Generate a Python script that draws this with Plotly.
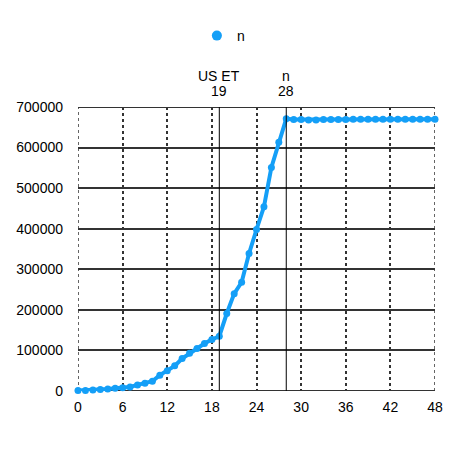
import plotly.graph_objects as go

x_vals = list(range(0, 49))
n_vals = [1000, 1500, 2500, 3500, 5000, 6500, 8000, 10000, 15000, 19000,
          24000, 39000, 50000, 62000, 80000, 93000, 105000, 117000, 127000, 135000,
          191000, 240000, 268000, 339000, 398000, 454000, 551000, 613000, 671000,
          669000, 669000, 668000, 668000, 669000, 669000, 669000, 669000, 670000, 670000,
          670000, 670000, 670000, 670000, 670000, 670000, 670000, 670000, 670000, 670000]
x_ticks = [0, 6, 12, 18, 24, 30, 36, 42, 48]
markers_x = [19, 28]
markers_label = ["US ET", "n"]
x_range = [0, 48]
y_range = [0, 700000]

FONT = "Liberation Sans, Arial, Helvetica, sans-serif"
BLUE = "#149ff7"
GRID = "#333333"

fig = go.Figure()

# edge gridlines (plotly omits grid lines on the range boundary)
for xv in x_range:
    fig.add_shape(type="line", xref="x", yref="paper", x0=xv, x1=xv, y0=0, y1=1,
                  line=dict(color=GRID, width=1.5, dash="dot"), layer="below")
for yv in y_range:
    fig.add_shape(type="line", xref="paper", yref="y", x0=0, x1=1, y0=yv, y1=yv,
                  line=dict(color=GRID, width=2), layer="below")

fig.add_trace(go.Scatter(
    x=x_vals, y=n_vals, mode="lines+markers", name="n", showlegend=False,
    line=dict(color=BLUE, width=4),
    marker=dict(color=BLUE, size=7),
    cliponaxis=False,
))
fig.add_trace(go.Scatter(
    x=[None], y=[None], mode="markers", name="n", showlegend=True,
    marker=dict(color=BLUE, size=10),
))

for xv, lab in zip(markers_x, markers_label):
    fig.add_shape(type="line", xref="x", yref="paper", x0=xv, x1=xv, y0=0, y1=1,
                  line=dict(color="black", width=1), layer="above")
    fig.add_annotation(x=xv, xref="x", y=1, yref="paper", yanchor="bottom",
                       text=str(xv), showarrow=False, yshift=6,
                       font=dict(family=FONT, size=14, color="black"))
    fig.add_annotation(x=xv, xref="x", y=1, yref="paper", yanchor="bottom",
                       text=lab, showarrow=False, yshift=21,
                       font=dict(family=FONT, size=14, color="black"))

fig.update_layout(
    width=464, height=450,
    margin=dict(l=70, r=37, t=99, b=67, autoexpand=False),
    paper_bgcolor="white", plot_bgcolor="white",
    font=dict(family=FONT, size=14, color="black"),
    showlegend=True,
    legend=dict(orientation="h", x=0.333, xanchor="left", y=1.25, yanchor="middle",
                font=dict(family=FONT, size=14, color="black")),
    xaxis=dict(range=x_range, tickvals=x_ticks, showgrid=True, griddash="dot",
               gridcolor=GRID, gridwidth=1.5, zeroline=False, showline=False,
               ticks="", ticklabelstandoff=6, automargin=False, tickfont=dict(size=14)),
    yaxis=dict(range=y_range, dtick=100000, showgrid=True, gridcolor=GRID,
               gridwidth=2, zeroline=False, showline=False, ticks="",
               ticklabelstandoff=14, automargin=False,
               tickformat="d", tickfont=dict(size=14)),
)

fig.write_html("out.html")
